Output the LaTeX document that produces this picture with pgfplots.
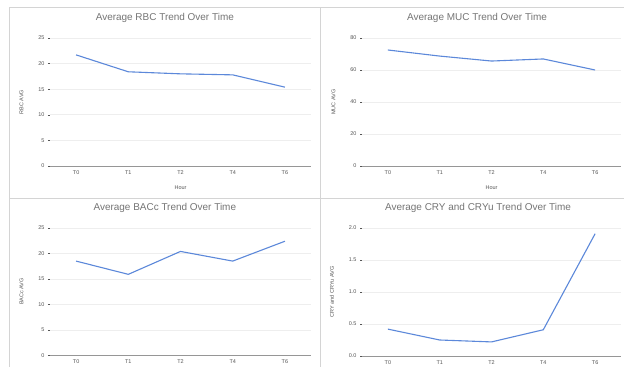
\documentclass[border=0pt]{standalone}
\usepackage{pgfplots}
\pgfplotsset{compat=1.18}
\usepackage{fontspec}
\setmainfont{Liberation Sans}

\definecolor{lineblue}{RGB}{92,136,218}
\definecolor{titlegray}{RGB}{117,117,117}
\definecolor{labelgray}{RGB}{85,85,85}
\definecolor{gridgray}{RGB}{238,238,238}
\definecolor{basegray}{RGB}{150,150,150}
\definecolor{framegray}{RGB}{212,212,212}

\pgfplotsset{
  panel/.style={
    scale only axis,
    anchor=south west,
    xmin=-0.5, xmax=4.5,
    ymin=0,
    xtick={0,1,2,3,4},
    xticklabels={T0,T1,T2,T4,T6},
    axis lines=left,
    x axis line style={draw=basegray, line width=0.8bp, -},
    y axis line style={draw=none},
    xtick style={draw=none},
    ytick style={draw=labelgray, line width=0.4bp},
    major tick length=2bp,
    tick align=outside,
    ymajorgrids,
    grid style={gridgray, line width=0.6bp},
    tick label style={font=\fontsize{5.5}{6.5}\selectfont, text=labelgray},
    label style={font=\fontsize{5.5}{6.5}\selectfont, text=labelgray},
    /pgf/number format/assume math mode=true,
    xticklabel style={yshift=1bp},
    xlabel style={yshift=-4bp},
    ylabel style={yshift=8bp},
    title style={font=\fontsize{10}{12}\selectfont, text=titlegray, anchor=center, yshift=14bp},
  }
}

\begin{document}
\begin{tikzpicture}
\useasboundingbox (0,0) rectangle (624bp,367bp);
\clip (0,0) rectangle (624bp,367bp);
\fill[white] (0,0) rectangle (624bp,367bp);
\draw[framegray, line width=0.8bp] (9bp,-5bp) -- (9bp,360bp) -- (630bp,360bp);
\draw[framegray, line width=0.8bp] (320bp,-5bp) -- (320bp,360bp);
\draw[framegray, line width=0.8bp] (9bp,169bp) -- (630bp,169bp);

\pgfinterruptboundingbox
\begin{axis}[panel, at={(50bp,201bp)}, width=261bp, height=128bp,
  ymax=25, ytick={0,5,10,15,20,25},
  xlabel={Hour}, ylabel={RBC AVG},
  title={Average RBC Trend Over Time},
  title style={at={(rel axis cs:0.44,1)}}]
\addplot[lineblue, line width=1.1bp] coordinates {(0,21.7) (1,18.4) (2,18.0) (3,17.8) (4,15.4)};
\end{axis}

\begin{axis}[panel, at={(362bp,201bp)}, width=259bp, height=128bp,
  ymax=80, ytick={0,20,40,60,80},
  xlabel={Hour}, ylabel={MUC AVG},
  title={Average MUC Trend Over Time},
  title style={at={(rel axis cs:0.444,1)}}]
\addplot[lineblue, line width=1.1bp] coordinates {(0,72.5) (1,68.7) (2,65.6) (3,66.9) (4,60.0)};
\end{axis}

\begin{axis}[panel, at={(50bp,11.7bp)}, width=261bp, height=127.3bp,
  ymax=25, ytick={0,5,10,15,20,25},
  ylabel={BACc AVG},
  title={Average BACc Trend Over Time},
  title style={at={(rel axis cs:0.44,1)}}]
\addplot[lineblue, line width=1.1bp] coordinates {(0,18.5) (1,15.9) (2,20.4) (3,18.5) (4,22.4)};
\end{axis}

\begin{axis}[panel, at={(362bp,11bp)}, width=259bp, height=128bp,
  ymax=2, ytick={0,0.5,1,1.5,2},
  yticklabel style={/pgf/number format/.cd, fixed, fixed zerofill, precision=1},
  ylabel={CRY and CRYu AVG},
  title={Average CRY and CRYu Trend Over Time},
  title style={at={(rel axis cs:0.448,1)}}]
\addplot[lineblue, line width=1.1bp] coordinates {(0,0.42) (1,0.25) (2,0.22) (3,0.41) (4,1.91)};
\end{axis}
\endpgfinterruptboundingbox
\end{tikzpicture}
\end{document}
